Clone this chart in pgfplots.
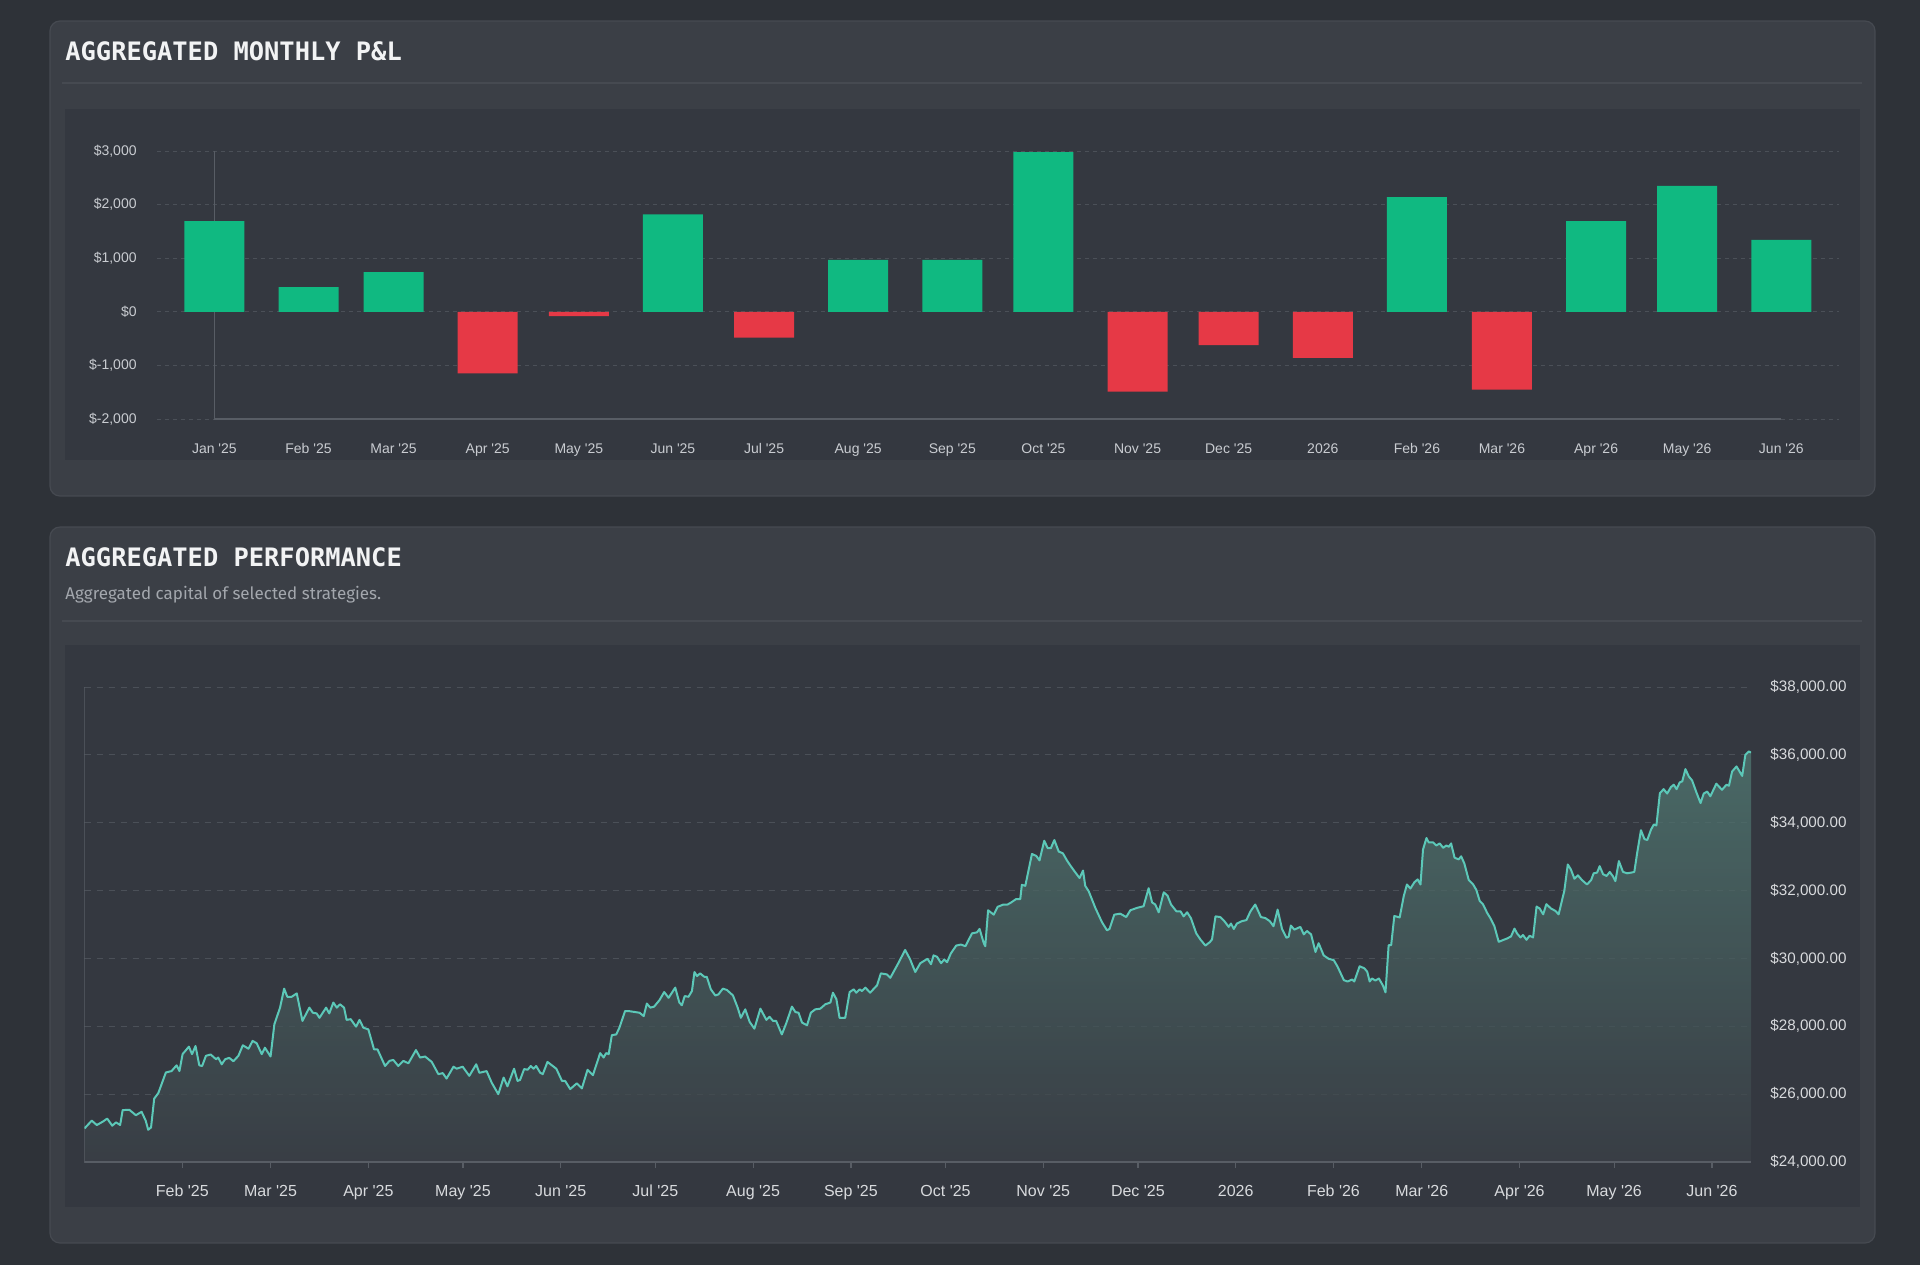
\documentclass[border=0pt]{standalone}
\usepackage{pgfplots}
\pgfplotsset{compat=1.18}
\usepackage{pgfplotstable}
\usepackage{fontspec}
\setmainfont{Liberation Sans}
\newfontfamily\titlefont{DejaVu Sans Mono}
\newfontfamily\subfont{Fira Sans}
\definecolor{bgc}{HTML}{2E3238}
\definecolor{cardc}{HTML}{3B3F46}
\definecolor{cardb}{HTML}{464A51}
\definecolor{chartc}{HTML}{343840}
\definecolor{gridc}{HTML}{4B5058}
\definecolor{axisc}{HTML}{585D65}
\definecolor{tickc}{HTML}{C9CCD1}
\definecolor{tickc2}{HTML}{D8DADD}
\definecolor{titlec}{HTML}{F2F3F4}
\definecolor{subc}{HTML}{A3A7AD}
\definecolor{pgreen}{HTML}{10B981}
\definecolor{pred}{HTML}{E63946}
\definecolor{linec}{HTML}{5CC8B8}
\definecolor{filltop}{RGB}{81,122,115}
\definecolor{fillbot}{RGB}{59,64,71}
\newcommand{\q}{\textquotesingle}

\pgfplotstableread{
x y
0 1690
31 460
59 740
151 1820
212 970
243 970
273 2980
396 2140
455 1690
485 2350
516 1340
}\pos
\pgfplotstableread{
x y
90 -1150
120 -80
181 -480
304 -1490
334 -620
365 -860
424 -1450
}\neg

\pgfplotstableread{
x y
0 24000
0 24990
2.3 25220
3.9 25090
5.8 25190
7.2 25280
8.8 25070
10 25170
11.3 25090
12.1 25530
14.2 25540
16.3 25380
18.1 25480
19.4 25220
20.2 24950
21.1 25020
22.1 25870
23.4 26030
25.8 26640
27.6 26680
29.2 26850
30.1 26680
31.1 27180
33.1 27400
34.1 27180
35.2 27420
36.4 26850
37.3 26830
38.5 27130
40 27170
41.7 27030
42.4 27080
43.5 26880
44.6 27030
45.9 27070
47.2 26970
48.8 27130
50.2 27440
52 27340
53.3 27570
54.6 27500
56.2 27180
57.2 27370
59 27110
60.2 28060
62 28550
63.3 29110
64.3 28870
65.7 28870
67.3 28970
69.1 28160
71.3 28550
72.4 28400
73.6 28380
74.5 28250
76.6 28550
77.6 28380
78.9 28700
80 28550
81 28650
82.3 28550
83.1 28190
84.4 28210
86.1 27990
87.2 28190
88.4 27960
90 27910
91.8 27320
92.9 27320
95.3 26830
96.7 26980
97.9 27010
99.5 26830
101.1 26980
102.7 26910
105.1 27300
106.4 27080
108 27110
110.1 26950
112.2 26590
113.6 26620
114.8 26460
117 26810
118 26750
119.9 26810
122 26540
124.2 26880
125.2 26630
127.5 26680
129.1 26340
131.2 26000
132.9 26490
134.1 26230
136.2 26750
137.3 26390
138.1 26420
139.4 26740
140.5 26720
141.5 26830
142.4 26750
143.2 26830
144.5 26630
145.3 26590
146.8 26950
148.2 26850
149.6 26750
151.4 26390
152.4 26390
154 26150
156.1 26320
157.7 26170
159.5 26720
161.2 26560
163.5 27210
164.6 27080
165.4 27210
166.2 27180
167.2 27740
168.6 27760
169.6 27960
171.4 28450
172.5 28450
174.6 28420
176 28400
177.3 28300
178.3 28670
179.4 28550
180.6 28580
182.3 28770
183.8 29010
185.2 28840
187.3 29140
188.6 28700
189.4 28620
190.3 28890
191.5 28870
192.6 29040
193.4 29600
194.2 29480
195.2 29560
196.5 29460
197.3 29460
198.6 29090
200 28910
201 28940
202.4 29110
203.7 29070
205.6 28910
207.1 28550
208.1 28250
209.5 28500
210.9 28130
212.4 27930
214.3 28520
216.2 28190
217.2 28280
218.3 28160
219.3 28160
221.1 27760
222.5 28090
224.3 28580
225.4 28420
226.4 28400
227.5 28110
229.1 28030
230.3 28400
231.7 28500
233.3 28520
234.9 28650
236.5 28700
237.3 28990
238.4 28800
239.4 28250
241.2 28250
242.6 29010
243.9 29090
244.7 28990
245.8 29090
246.5 29040
247.6 29140
249.1 28990
251.3 29210
252.5 29560
254.4 29530
255.5 29430
257.8 29820
260.2 30250
261.8 29970
263.4 29600
265 29860
267.3 29990
268.4 29830
269.2 30090
270.3 30050
271.6 29860
272.6 29970
273.5 29890
274.7 30150
276.4 30380
277.9 30410
279.3 30360
281.4 30740
283 30770
283.8 30870
285.1 30460
285.6 30360
286.5 31420
288.3 31290
289.5 31520
291.4 31590
292.7 31590
293.8 31650
295.4 31750
296.7 31750
297.2 32170
298.3 32140
300.4 33080
301.8 33020
302.8 32890
304.3 33470
305.4 33250
306.4 33250
307.5 33490
308.9 33150
310.2 33100
311.5 32890
312.8 32710
314.2 32530
315.5 32370
316.6 32590
317.3 32140
318.4 31980
320.5 31490
322.6 31070
324.2 30830
325 30870
326.5 31290
328.4 31320
330.3 31220
331.6 31420
333.7 31490
335.8 31540
337.4 32070
338.5 31650
339.5 31590
340.6 31360
342.2 31950
343.4 31850
344.5 31590
346.2 31390
347.5 31390
348.5 31240
349.6 31360
350.8 31190
352.5 30740
353.8 30560
355.4 30380
356.8 30480
357.5 30560
358.6 31240
360.1 31220
361.4 31100
362.8 30930
363.5 31030
364.4 30870
365.4 31030
367 31100
368.4 31130
369.7 31390
371.2 31590
373 31220
374.4 31190
375.8 31100
377 30950
378.3 31440
379.7 30870
381.1 30610
381.8 30640
382.5 30970
383.6 30850
385.5 30930
386.6 30710
387.6 30810
388.9 30710
390.3 30190
391.3 30450
392.9 30090
394.5 29990
396.1 29950
397.3 29760
399.3 29360
400.5 29320
401.9 29380
402.6 29320
404.3 29770
405.8 29710
406.7 29610
407.5 29320
408.2 29410
409.3 29350
410.4 29410
411.7 29200
412.5 29000
413.5 30390
414.3 30390
415.3 31250
417 31210
418.3 31840
419.3 32180
420.4 32060
421.7 32250
422.7 32330
423.6 32180
424.4 33210
425.5 33550
426.2 33420
427.6 33420
428.6 33330
429.7 33390
430.8 33260
431.8 33330
432.6 33290
433.3 33390
434.4 32970
435.7 32920
436.5 33010
437.5 32800
438.9 32310
440.3 32180
441.3 32020
442.4 31690
443.4 31600
444.7 31350
445.8 31180
447 30960
448.4 30490
450 30550
451.1 30590
452.3 30650
453.4 30880
454.2 30740
455.3 30620
456.1 30690
457.2 30550
458.2 30670
459.3 30620
460.4 31530
461.4 31470
462.5 31300
463.5 31600
465 31470
466.4 31400
467.4 31300
468.8 31840
469.2 31990
470.3 32770
471.3 32620
472.4 32350
473.5 32450
474.8 32310
476.4 32180
477.7 32310
478.5 32510
479.6 32530
480.4 32720
481.5 32480
482.6 32430
483.6 32550
484.7 32410
485.4 32280
486.5 32870
487.8 32550
489.1 32510
490.4 32530
491.4 32550
492.3 33110
493.5 33780
494.6 33520
495.5 33490
496.7 33800
497.6 33950
498.4 33920
499.5 34870
500.7 34990
501.8 34860
503 35050
503.9 35120
504.8 34990
505.8 35190
506.6 35220
507.6 35580
508.7 35360
509.7 35250
511.1 34890
512.4 34580
513.4 34860
514.5 34920
515.5 34780
517.4 35150
519.2 34970
520.6 35120
521.4 35090
522.4 35510
523.8 35660
525.6 35380
526.6 36000
527.7 36100
528.4 36070
528.4 24000
}\perf

\begin{document}
\begin{tikzpicture}
% page and cards
\fill[bgc] (0,0) rectangle (960pt,-632.5pt);
\fill[cardc, draw=cardb, line width=0.6pt, rounded corners=5pt] (25pt,-10.5pt) rectangle (937.5pt,-248pt);
\fill[cardc, draw=cardb, line width=0.6pt, rounded corners=5pt] (25pt,-263.5pt) rectangle (937.5pt,-621.5pt);
\draw[cardb, line width=0.6pt] (31pt,-41.5pt) -- (931pt,-41.5pt);
\draw[cardb, line width=0.6pt] (31pt,-310.5pt) -- (931pt,-310.5pt);
\fill[chartc] (32.5pt,-54.5pt) rectangle (930pt,-230pt);
\fill[chartc] (32.5pt,-322.5pt) rectangle (930pt,-603.5pt);
% titles
\node[anchor=west, inner sep=0pt, text=titlec, font=\titlefont\bfseries\fontsize{12.7}{14}\selectfont] at (32.5pt,-25.5pt) {AGGREGATED MONTHLY P\&L};
\node[anchor=west, inner sep=0pt, text=titlec, font=\titlefont\bfseries\fontsize{12.7}{14}\selectfont] at (32.5pt,-278.5pt) {AGGREGATED PERFORMANCE};
\node[anchor=base west, inner sep=0pt, text=subc, font=\subfont\fontsize{8.5}{10}\selectfont] at (32.5pt,-299.5pt) {Aggregated capital of selected strategies.};

% ---- monthly P&L
\begin{axis}[
  at={(78.5pt,-209.5pt)}, anchor=south west,
  scale only axis, width=841pt, height=134pt,
  xmin=-18.9, xmax=535, ymin=-2000, ymax=3000,
  scaled y ticks=false, scaled x ticks=false,
  axis line style={draw=none},
  tick style={draw=none}, major tick length=0pt,
  ytick={-2000,-1000,0,1000,2000,3000},
  yticklabels={{\$-2,000},{\$-1,000},{\$0},{\$1,000},{\$2,000},{\$3,000}},
  xtick={0,31,59,90,120,151,181,212,243,273,304,334,365,396,424,455,485,516},
  xticklabels={Jan \q25,Feb \q25,Mar \q25,Apr \q25,May \q25,Jun \q25,Jul \q25,Aug \q25,Sep \q25,Oct \q25,Nov \q25,Dec \q25,2026,Feb \q26,Mar \q26,Apr \q26,May \q26,Jun \q26},
  ymajorgrids, grid style={gridc, line width=0.5pt, dash pattern=on 2pt off 2pt},
  /pgf/number format/assume math mode=true,
  ticklabel style={font=\fontsize{7}{8}\selectfont, text=tickc},
  yticklabel style={anchor=east, inner sep=0pt, xshift=-10pt},
  xticklabel style={anchor=base, inner sep=0pt, yshift=-17pt},
]
\addplot[axisc, line width=0.6pt, forget plot] coordinates {(0,-2000) (0,3000)};
\addplot[axisc, line width=0.8pt, forget plot] coordinates {(0,-2000) (516,-2000)};
\addplot[ybar, bar width=30pt, bar shift=0pt, fill=pgreen, draw=none] table {\pos};
\addplot[ybar, bar width=30pt, bar shift=0pt, fill=pred, draw=none] table {\neg};
\end{axis}

% ---- performance
\begin{axis}[
  at={(42.25pt,-581pt)}, anchor=south west,
  scale only axis, width=833.25pt, height=237.5pt,
  xmin=0, xmax=528.4, ymin=24000, ymax=38000,
  scaled y ticks=false, scaled x ticks=false,
  axis line style={draw=none},
  ytick={24000,26000,28000,30000,32000,34000,36000,38000},
  yticklabels={{\$24,000.00},{\$26,000.00},{\$28,000.00},{\$30,000.00},{\$32,000.00},{\$34,000.00},{\$36,000.00},{\$38,000.00}},
  yticklabel pos=right,
  ytick style={draw=none},
  xtick={31,59,90,120,151,181,212,243,273,304,334,365,396,424,455,485,516},
  xticklabels={Feb \q25,Mar \q25,Apr \q25,May \q25,Jun \q25,Jul \q25,Aug \q25,Sep \q25,Oct \q25,Nov \q25,Dec \q25,2026,Feb \q26,Mar \q26,Apr \q26,May \q26,Jun \q26},
  xtick pos=bottom, tick align=outside, major tick length=3pt,
  xtick style={axisc, line width=0.6pt},
  ymajorgrids, grid style={gridc, line width=0.5pt, dash pattern=on 3pt off 3pt},
  /pgf/number format/assume math mode=true,
  xticklabel style={font=\fontsize{8}{9}\selectfont, text=tickc2, anchor=base, inner sep=0pt, yshift=-14pt},
  yticklabel style={font=\fontsize{7.6}{8.5}\selectfont, text=tickc2, anchor=west, inner sep=0pt, xshift=6.5pt},
]
\addplot[draw=none, top color=filltop, bottom color=fillbot, fill opacity=0.75, forget plot] table {\perf};
\addplot[axisc, line width=0.8pt, forget plot] coordinates {(0,24000) (528.4,24000)};
\addplot[axisc, line width=0.6pt, forget plot] coordinates {(0,24000) (0,38000)};
\addplot[linec, line width=1pt, line join=round, restrict y to domain=24500:40000] table {\perf};
\end{axis}
\end{tikzpicture}
\end{document}
